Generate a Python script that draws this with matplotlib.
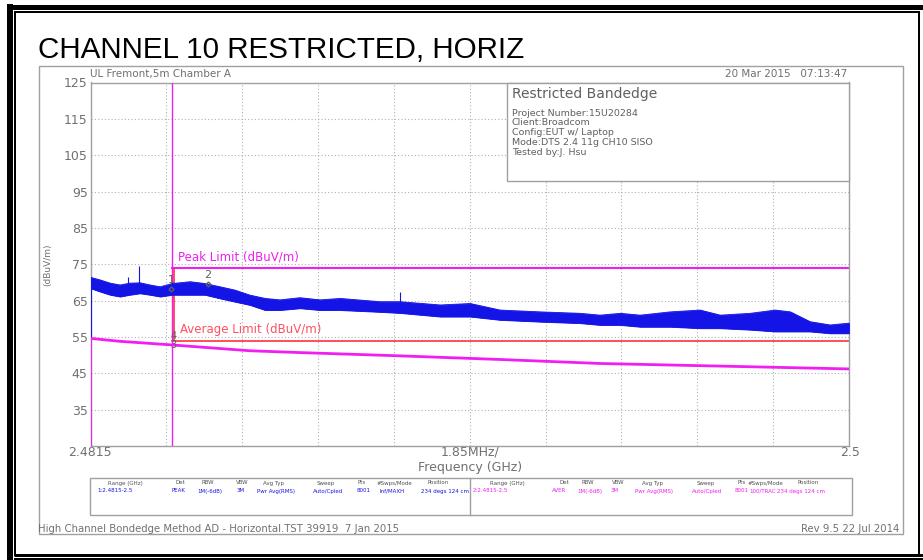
import numpy as np
import matplotlib.pyplot as plt
from matplotlib.patches import Rectangle

# Datos (frecuencia en GHz, nivel en dBuV/m)
f_ini, f_fin = 2.4815, 2.5
f_borde = 2.4835

pk_f  = [2.4815, 2.48173, 2.48198, 2.48222, 2.48246, 2.48271, 2.48295, 2.48320,
         2.48349, 2.48393, 2.48429, 2.48466, 2.48502, 2.48539, 2.48576, 2.48612,
         2.48661, 2.48710, 2.48759, 2.48856, 2.48905, 2.49003, 2.49076, 2.49149,
         2.49247, 2.49344, 2.49393, 2.49442, 2.49491, 2.49564, 2.49637, 2.49686,
         2.49759, 2.49820, 2.49857, 2.49905, 2.49954, 2.5]
pk_hi = [71.4, 70.7, 69.8, 69.3, 69.8, 69.9, 69.3, 68.8, 69.7, 70.2,
         69.7, 68.8, 67.9, 66.5, 65.6, 65.2, 65.8, 65.2, 65.6, 64.7,
         64.7, 63.8, 64.2, 62.4, 61.9, 61.5, 61.0, 61.5, 61.0, 61.9,
         62.4, 61.0, 61.5, 62.4, 61.9, 59.2, 58.3, 58.8]
pk_lo = [68.4, 67.5, 66.6, 66.1, 66.6, 67.0, 66.6, 66.1, 66.6, 66.6,
         66.6, 65.6, 64.7, 63.8, 62.4, 62.4, 62.9, 62.4, 62.4, 61.9,
         61.6, 60.6, 60.6, 59.7, 59.2, 58.8, 58.3, 58.3, 57.8, 57.8,
         57.4, 57.4, 57.0, 56.5, 56.5, 56.5, 56.0, 56.0]

# picos aislados de la traza peak
pico_f   = [2.48241, 2.48268, 2.48905]
pico_top = [71.6, 74.5, 67.4]
pico_bas = [68.0, 68.5, 63.5]

av_f = [2.4815, 2.48222, 2.48349, 2.48539, 2.48661, 2.48905, 2.49149, 2.49393, 2.49759, 2.5]
av_v = [54.6, 53.8, 52.8, 51.2, 50.7, 49.8, 48.8, 47.7, 46.8, 46.2]

lim_peak = 74
lim_avg  = 54

y_ticks = [35, 45, 55, 65, 75, 85, 95, 105, 115, 125]

info = ['Project Number:15U20284', 'Client:Broadcom', 'Config:EUT w/ Laptop',
        'Mode:DTS 2.4 11g CH10 SISO', 'Tested by:J. Hsu']

cab   = ['Range (GHz)', 'Det', 'RBW', 'VBW', 'Avg Typ', 'Sweep', 'Pts', '#Swps/Mode', 'Position']
fila1 = ['1:2.4815-2.5', 'PEAK', '1M(-6dB)', '3M', 'Pwr Avg(RMS)', 'Auto/Cpled', '8001', 'Inf/MAXH', '234 degs 124 cm']
fila2 = ['2:2.4815-2.5', 'AVER', '1M(-6dB)', '3M', 'Pwr Avg(RMS)', 'Auto/Cpled', '8001', '100/TRAC', '234 degs 124 cm']

azul    = '#1414e6'
magenta = '#f01ef0'
rojo    = '#ff3040'
gris    = '#707070'

fig = plt.figure(figsize=(9.23, 5.60), dpi=100)

# fondo: marcos en pixeles
bg = fig.add_axes([0, 0, 1, 1])
bg.set_xlim(0, 923)
bg.set_ylim(560, 0)
bg.axis('off')
px = 0.72
bg.plot([7, 923], [6.5, 6.5], color='k', lw=5*px, solid_capstyle='butt')
bg.plot([10, 10], [4, 560], color='k', lw=6*px, solid_capstyle='butt')
bg.plot([14, 920], [11.5, 11.5], color='k', lw=2*px, solid_capstyle='butt')
bg.plot([15, 15], [11, 556], color='k', lw=2*px, solid_capstyle='butt')
bg.plot([919, 919], [11, 556], color='k', lw=2*px, solid_capstyle='butt')
bg.plot([14, 923], [554.5, 554.5], color='k', lw=3*px, solid_capstyle='butt')
bg.plot([14, 923], [558.5, 558.5], color='k', lw=2*px, solid_capstyle='butt')
bg.add_patch(Rectangle((39, 66), 864, 468, fill=False, ec='#a0a0a0', lw=1))

bg.text(38, 58, 'CHANNEL 10 RESTRICTED, HORIZ', fontsize=21.3, family='Liberation Sans',
        color='k', va='baseline', ha='left')
bg.text(90, 74, 'UL Fremont,5m Chamber A', fontsize=7.5, color=gris, va='center')
bg.text(847, 74, '20 Mar 2015   07:13:47', fontsize=7.5, color=gris, va='center', ha='right')
bg.text(48, 265, '(dBuV/m)', fontsize=6.5, color=gris, rotation=90, va='center', ha='center')
bg.text(90, 452, '2.4815', fontsize=9, color=gris, va='center', ha='center')
bg.text(470, 452, '1.85MHz/', fontsize=9, color=gris, va='center', ha='center')
bg.text(850, 452, '2.5', fontsize=9, color=gris, va='center', ha='center')
bg.text(470, 467, 'Frequency (GHz)', fontsize=9, color=gris, va='center', ha='center')
bg.text(38, 529, 'High Channel Bondedge Method AD - Horizontal.TST 39919  7 Jan 2015',
        fontsize=7.3, color=gris, va='center')
bg.text(899, 529, 'Rev 9.5 22 Jul 2014', fontsize=7.3, color=gris, va='center', ha='right')

# grafico principal
ax = fig.add_axes([90.5/923, 1 - 446/560, 758.5/923, 363.5/560])
ax.set_xlim(f_ini, f_fin)
ax.set_ylim(25, 125)
ax.set_xticks(np.linspace(f_ini, f_fin, 11))
ax.set_xticklabels([])
ax.set_yticks(y_ticks)
ax.set_yticklabels([str(v) for v in y_ticks], fontsize=9, color=gris)
ax.tick_params(length=0, pad=2)
ax.grid(True, color='#b0b0b0', linestyle=(0, (1, 2)), lw=0.8)
for s in ax.spines.values():
    s.set_color('#a0a0a0')
    s.set_linewidth(1)

ax.fill_between(pk_f, pk_lo, pk_hi, color=azul, lw=0.6, zorder=3)
ax.plot(pk_f, pk_hi, color=azul, lw=0.6, zorder=3)
ax.plot(pk_f, pk_lo, color=azul, lw=0.6, zorder=3)
ax.vlines(pico_f, pico_bas, pico_top, color=azul, lw=0.8, zorder=3)
ax.vlines(f_ini, av_v[0], pk_lo[0], color=azul, lw=1.5, zorder=3)

ax.plot(av_f, av_v, color=magenta, lw=2, zorder=3)
ax.vlines(f_ini, 25, av_v[0], color=magenta, lw=1.5, zorder=3)

ax.plot([f_borde, f_fin], [lim_peak, lim_peak], color=magenta, lw=1.5, zorder=2.5)
ax.plot([f_borde, f_fin], [lim_avg, lim_avg], color=rojo, lw=1.2, zorder=2.5)
ax.vlines(f_borde + 0.00003, lim_avg, lim_peak, color=rojo, lw=1.2, zorder=2.5)
ax.axvline(f_borde - 0.00001, color=magenta, lw=1, zorder=2.6)

# marcadores
ax.text(2.48347, 69.3, '1', fontsize=8, color='#606060', ha='center', va='bottom', zorder=5)
ax.plot([2.48347], [68.1], marker='D', ms=2.5, mfc='none', mec='#606060', zorder=5)
ax.text(2.48436, 70.8, '2', fontsize=8, color='#606060', ha='center', va='bottom', zorder=5)
ax.plot([2.48436], [69.6], marker='D', ms=2.5, mfc='none', mec='#606060', zorder=5)
ax.text(2.48352, 53.9, '4', fontsize=7, color='#606060', ha='center', va='bottom', zorder=5)
ax.text(2.48352, 51.3, '3', fontsize=7, color='#606060', ha='center', va='bottom', zorder=5)

ax.text(2.48363, 75.2, 'Peak Limit (dBuV/m)', fontsize=8.5, color=magenta, va='bottom', zorder=5)
ax.text(2.48368, 55.2, 'Average Limit (dBuV/m)', fontsize=8.5, color='#ff5060', va='bottom', zorder=5)

# capa superior: recuadro de info y tabla
fg = fig.add_axes([0, 0, 1, 1], zorder=5)
fg.set_xlim(0, 923)
fg.set_ylim(560, 0)
fg.axis('off')
fg.add_patch(Rectangle((507, 83), 342, 98, fc='white', ec='#a0a0a0', lw=1))
fg.text(512, 94, 'Restricted Bandedge', fontsize=10, color='#606060', va='center')
for i, t in enumerate(info):
    fg.text(512, 113 + i * 9.8, t, fontsize=6.8, color='#606060', va='center')

fg.add_patch(Rectangle((90, 478), 762, 37, fc='white', ec='#a0a0a0', lw=1))
fg.plot([470, 470], [478, 515], color='#a0a0a0', lw=1)
cab_x1 = [108, 176, 202, 236, 263, 317, 357, 377, 427]
val_x1 = [97, 172, 197, 237, 257, 313, 357, 380, 421]
cab_x2 = [490, 560, 582, 612, 642, 697, 737, 748, 798]
val_x2 = [473, 552, 577, 611, 635, 692, 735, 749, 777]
for i in range(len(cab)):
    fg.text(cab_x1[i], 483, cab[i], fontsize=4.0, color='#505050', va='center')
    fg.text(val_x1[i], 491, fila1[i], fontsize=4.0, color=azul, va='center')
    fg.text(cab_x2[i], 483, cab[i], fontsize=4.0, color='#505050', va='center')
    fg.text(val_x2[i], 491, fila2[i], fontsize=4.0, color=magenta, va='center')

plt.savefig('out.png', dpi=100)
